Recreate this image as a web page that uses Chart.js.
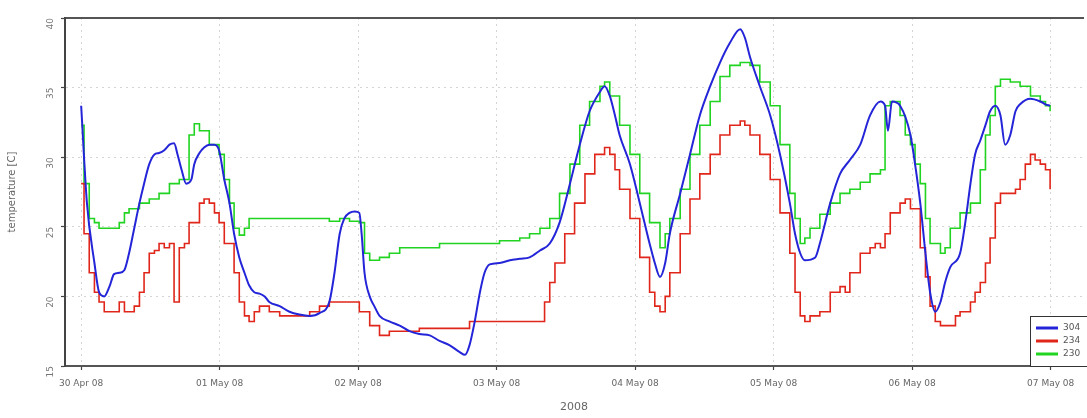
<!DOCTYPE html>
<html>
<head>
<meta charset="utf-8">
<script src="https://cdn.jsdelivr.net/npm/chart.js@4.4.1/dist/chart.umd.min.js"></script>
<style>
  html, body { margin: 0; padding: 0; background: #fff; }
  #wrap { width: 1087px; height: 418px; position: relative; }
</style>
</head>
<body>
<div id="wrap"><canvas id="chart"></canvas></div>
<script>
// hours since 30 Apr 08 00:00
const dayLabels = ['30 Apr 08', '01 May 08', '02 May 08', '03 May 08', '04 May 08', '05 May 08', '06 May 08', '07 May 08'];
const yTicks = [15, 20, 25, 30, 35, 40];
const seriesNames = ['304', '234', '230'];

const blueTimes = [0, 1.0, 2.3, 3.1, 4.0, 4.9, 5.7, 6.6, 7.5, 8.3, 9.2, 10.1, 10.9, 11.8, 12.7, 13.5, 14.4, 15.3, 16.1, 16.7, 17.4, 18.2, 19.1, 19.6, 20.5, 21.3, 22.2, 23.1, 23.9, 24.8, 25.7, 26.5, 27.4, 28.3, 29.1, 30.0, 30.9, 31.8, 32.6, 34.4, 36.1, 37.8, 39.6, 41.3, 43.0, 43.9, 44.8, 45.6, 46.5, 47.4, 48.2, 48.6, 49.1, 50.0, 50.8, 51.7, 53.4, 55.2, 56.9, 58.6, 60.4, 62.1, 63.8, 65.6, 66.5, 67.3, 68.2, 69.1, 69.9, 70.8, 72.5, 74.3, 76.0, 77.7, 79.5, 81.2, 82.9, 84.7, 86.4, 88.1, 89.9, 90.7, 91.6, 92.5, 93.3, 95.1, 96.8, 98.5, 99.4, 100.3, 101.2, 102.0, 103.8, 105.5, 107.2, 109.0, 110.7, 112.4, 114.2, 115.0, 115.9, 117.6, 119.4, 121.1, 122.8, 123.7, 124.6, 125.4, 127.2, 128.0, 129.8, 131.5, 133.2, 135.0, 136.7, 138.5, 139.3, 139.8, 140.5, 141.9, 143.7, 144.5, 145.4, 146.3, 147.1, 148.0, 148.9, 149.7, 150.6, 152.3, 153.2, 154.1, 154.9, 155.8, 156.7, 157.5, 158.4, 159.3, 160.1, 161.0, 161.9, 162.7, 164.5, 166.2, 167.1, 167.9];
const blueTemps = [33.7, 26.7, 22.4, 20.3, 20.0, 20.7, 21.6, 21.7, 21.9, 23.1, 24.9, 26.7, 28.1, 29.5, 30.2, 30.3, 30.5, 30.9, 31.0, 30.2, 29.1, 28.1, 28.4, 29.5, 30.3, 30.7, 30.9, 30.9, 30.5, 28.4, 26.7, 24.5, 22.8, 21.7, 20.8, 20.3, 20.2, 20.0, 19.6, 19.3, 18.9, 18.7, 18.6, 18.8, 19.6, 21.7, 24.5, 25.6, 26.0, 26.1, 26.0, 24.5, 21.7, 20.0, 19.3, 18.6, 18.2, 17.9, 17.5, 17.3, 17.2, 16.8, 16.5, 16.0, 15.8, 16.5, 18.2, 20.3, 21.7, 22.3, 22.4, 22.6, 22.7, 22.8, 23.3, 23.8, 25.3, 28.1, 30.9, 33.3, 34.7, 35.1, 34.4, 33.0, 31.6, 29.5, 26.7, 23.8, 22.4, 21.4, 22.4, 24.5, 27.4, 30.2, 33.0, 35.1, 36.8, 38.2, 39.2, 38.6, 37.2, 35.1, 33.0, 30.2, 26.7, 24.5, 23.1, 22.6, 22.8, 23.8, 26.7, 28.8, 29.8, 30.9, 33.0, 34.0, 33.7, 31.9, 34.0, 33.7, 31.6, 29.5, 26.7, 23.1, 20.3, 18.9, 19.6, 21.0, 22.1, 23.1, 25.3, 28.1, 30.2, 31.2, 32.3, 33.3, 33.7, 33.0, 30.9, 31.6, 33.3, 33.8, 34.2, 34.0, 33.8, 33.7];

const redTimes = [0, 0.5, 1.4, 2.3, 3.1, 4.0, 5.7, 6.6, 7.5, 9.2, 10.1, 10.9, 11.8, 12.7, 13.5, 14.4, 15.3, 16.1, 17.0, 17.9, 18.7, 20.5, 21.3, 22.2, 23.1, 23.9, 24.8, 26.5, 27.4, 28.3, 29.1, 30.0, 30.9, 32.6, 34.4, 39.6, 41.3, 43.0, 48.2, 50.0, 51.7, 53.4, 58.6, 65.6, 67.3, 79.5, 80.3, 81.2, 82.1, 83.8, 85.5, 87.3, 89.0, 90.7, 91.6, 92.5, 93.3, 95.1, 96.8, 98.5, 99.4, 100.3, 101.2, 102.0, 103.8, 105.5, 107.2, 109.0, 110.7, 112.4, 114.2, 115.0, 115.9, 117.6, 119.4, 121.1, 122.8, 123.7, 124.6, 125.4, 126.3, 128.0, 129.8, 131.5, 132.4, 133.2, 135.0, 136.7, 137.6, 138.5, 139.3, 140.2, 141.9, 142.8, 143.7, 145.4, 146.3, 147.1, 148.0, 148.9, 150.6, 151.5, 152.3, 154.1, 154.9, 155.8, 156.7, 157.5, 158.4, 159.3, 161.0, 161.9, 162.7, 163.6, 164.5, 165.3, 166.2, 167.1, 167.9];
const redTemps = [28.1, 24.5, 21.7, 20.3, 19.6, 18.9, 18.9, 19.6, 18.9, 19.3, 20.3, 21.7, 23.1, 23.3, 23.8, 23.5, 23.8, 19.6, 23.5, 23.8, 25.3, 26.7, 27.0, 26.7, 26.0, 25.3, 23.8, 21.7, 19.6, 18.6, 18.2, 18.9, 19.3, 18.9, 18.6, 18.9, 19.3, 19.6, 18.9, 17.9, 17.2, 17.5, 17.7, 17.7, 18.2, 18.2, 19.6, 21.0, 22.4, 24.5, 26.7, 28.8, 30.2, 30.7, 30.2, 29.1, 27.7, 25.6, 22.8, 20.3, 19.3, 18.9, 20.0, 21.7, 24.5, 27.0, 28.8, 30.2, 31.6, 32.3, 32.6, 32.3, 31.6, 30.2, 28.4, 26.0, 23.1, 20.3, 18.6, 18.2, 18.6, 18.9, 20.3, 20.7, 20.3, 21.7, 23.1, 23.5, 23.8, 23.5, 24.5, 26.0, 26.7, 27.0, 26.3, 23.5, 21.4, 19.3, 18.2, 17.9, 17.9, 18.6, 18.9, 19.6, 20.3, 21.0, 22.4, 24.2, 26.7, 27.4, 27.4, 27.7, 28.4, 29.5, 30.2, 29.8, 29.5, 29.1, 27.7];

const greenTimes = [0, 0.5, 1.4, 2.3, 3.1, 4.9, 6.6, 7.5, 8.3, 10.1, 11.8, 13.5, 15.3, 17.0, 18.7, 19.6, 20.5, 22.2, 23.9, 24.8, 25.7, 26.5, 27.4, 28.3, 29.1, 30.9, 37.8, 41.3, 43.0, 44.8, 46.5, 48.2, 49.1, 50.0, 51.7, 53.4, 55.2, 58.6, 62.1, 69.1, 72.5, 76.0, 77.7, 79.5, 81.2, 82.9, 84.7, 86.4, 88.1, 89.9, 90.7, 91.6, 93.3, 95.1, 96.8, 98.5, 100.3, 101.2, 102.0, 103.8, 105.5, 107.2, 109.0, 110.7, 112.4, 114.2, 115.9, 117.6, 119.4, 121.1, 122.8, 123.7, 124.6, 125.4, 126.3, 128.0, 129.8, 131.5, 133.2, 135.0, 136.7, 138.5, 139.3, 140.2, 141.9, 142.8, 143.7, 144.5, 145.4, 146.3, 147.1, 148.9, 149.7, 150.6, 152.3, 154.1, 155.8, 156.7, 157.5, 158.4, 159.3, 161.0, 162.7, 164.5, 166.2, 167.1, 167.9];
const greenTemps = [32.3, 28.1, 25.6, 25.3, 24.9, 24.9, 25.3, 26.0, 26.3, 26.7, 27.0, 27.4, 28.1, 28.4, 31.6, 32.4, 31.9, 30.9, 30.2, 28.4, 26.7, 24.9, 24.4, 24.9, 25.6, 25.6, 25.6, 25.6, 25.4, 25.6, 25.4, 25.3, 23.1, 22.6, 22.8, 23.1, 23.5, 23.5, 23.8, 23.8, 24.0, 24.2, 24.5, 24.9, 25.6, 27.4, 29.5, 32.3, 34.0, 35.1, 35.4, 34.4, 32.3, 30.2, 27.4, 25.3, 23.5, 24.5, 25.6, 27.7, 30.2, 32.3, 34.0, 35.8, 36.6, 36.8, 36.6, 35.4, 33.7, 30.9, 27.4, 25.6, 23.8, 24.2, 24.9, 25.9, 26.7, 27.4, 27.7, 28.2, 28.8, 29.1, 33.7, 34.0, 33.0, 31.6, 30.9, 29.5, 28.1, 25.6, 23.8, 23.1, 23.5, 24.9, 26.0, 26.7, 29.1, 31.6, 33.0, 35.1, 35.6, 35.4, 35.1, 34.4, 34.0, 33.7, 33.3];

const toPoints = (xs, ys) => xs.map((x, i) => ({ x: x, y: ys[i] }));

// frame: solid left axis line and the small legend box bottom right
const frameAndLegend = {
    id: 'frameAndLegend',
    afterDraw(chart) {
        const ctx = chart.ctx;
        const area = chart.chartArea;
        ctx.save();
        ctx.strokeStyle = '#444';
        ctx.lineWidth = 2;
        ctx.beginPath();
        ctx.moveTo(area.left, area.top);
        ctx.lineTo(area.left, area.bottom);
        ctx.stroke();

        const x0 = area.right - 53, y0 = area.bottom - 50;
        ctx.fillStyle = '#fff';
        ctx.fillRect(x0, y0, 60, 50);
        ctx.strokeStyle = '#333';
        ctx.lineWidth = 1;
        ctx.strokeRect(x0 + 0.5, y0 + 0.5, 60, 50);
        ctx.font = '9px "DejaVu Sans"';
        ctx.textBaseline = 'middle';
        chart.data.datasets.forEach((ds, i) => {
            const yy = y0 + 12 + i * 13;
            ctx.strokeStyle = ds.borderColor;
            ctx.lineWidth = 3;
            ctx.beginPath();
            ctx.moveTo(x0 + 6, yy);
            ctx.lineTo(x0 + 28, yy);
            ctx.stroke();
            ctx.fillStyle = '#555';
            ctx.fillText(ds.label, x0 + 33, yy);
        });
        ctx.restore();
    }
};

new Chart(document.getElementById('chart'), {
    type: 'line',
    data: {
        datasets: [
            { label: seriesNames[0], data: toPoints(blueTimes, blueTemps), borderColor: '#2424d8', borderWidth: 2, cubicInterpolationMode: 'monotone' },
            { label: seriesNames[1], data: toPoints(redTimes, redTemps), borderColor: '#e0261a', borderWidth: 1.6, stepped: 'before' },
            { label: seriesNames[2], data: toPoints(greenTimes, greenTemps), borderColor: '#22d422', borderWidth: 1.6, stepped: 'before' }
        ]
    },
    options: {
        responsive: true,
        maintainAspectRatio: false,
        animation: false,
        layout: { padding: { top: 10, right: 4, left: 4 } },
        elements: { point: { radius: 0 } },
        plugins: { legend: { display: false }, tooltip: { enabled: false } },
        scales: {
            x: {
                type: 'linear',
                min: -2.8,
                max: 173.6,
                afterBuildTicks: axis => { axis.ticks = dayLabels.map((d, i) => ({ value: i * 24 })); },
                afterFit: axis => { axis.height = 52; },
                ticks: {
                    callback: (v) => dayLabels[Math.round(v / 24)],
                    color: '#666', font: { size: 9, family: 'DejaVu Sans' }, maxRotation: 0, padding: 8
                },
                grid: { color: '#d4d4d4', lineWidth: 1, tickLength: 4, tickColor: '#444', tickWidth: 1.2 },
                border: { color: '#555', width: 2, dash: [2, 4] },
                title: { display: true, text: '2008', color: '#666', font: { size: 11, family: 'DejaVu Sans' }, padding: { top: 0 } }
            },
            xTop: {
                type: 'linear',
                position: 'top',
                min: -2.8,
                max: 173.6,
                ticks: { display: false },
                grid: { display: false },
                border: { color: '#555', width: 2, dash: [4, 2] }
            },
            y: {
                min: 15,
                max: 40,
                afterBuildTicks: axis => { axis.ticks = yTicks.map(v => ({ value: v })); },
                afterFit: axis => { axis.width = 61; },
                ticks: { color: '#777', font: { size: 9, family: 'DejaVu Sans' }, minRotation: 90, maxRotation: 90, padding: 10 },
                grid: { color: '#d4d4d4', lineWidth: 1, tickLength: 4, tickColor: '#444', tickWidth: 1.2 },
                border: { color: '#444', width: 2, dash: [2, 4] },
                title: { display: true, text: 'temperature [C]', color: '#666', font: { size: 10, family: 'DejaVu Sans' }, padding: 2 }
            }
        }
    },
    plugins: [frameAndLegend]
});
</script>
</body>
</html>
